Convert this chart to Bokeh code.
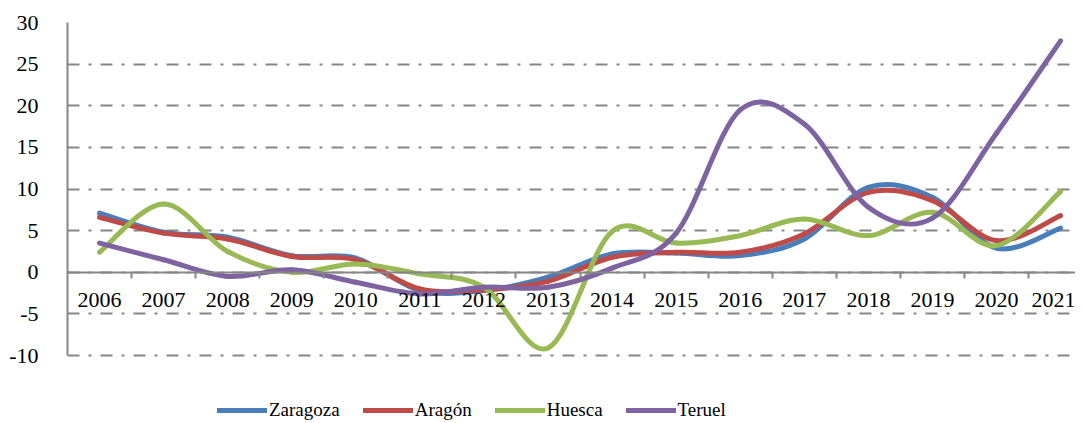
from bokeh.plotting import figure
from bokeh.models import (Range1d, LinearAxis, FixedTicker, Legend, LegendItem,
                          CustomJSTickFormatter, Grid)
from bokeh.embed import file_html
from bokeh.resources import INLINE

years = list(range(2006, 2022))
zaragoza = [7.1, 4.8, 4.2, 2.0, 1.7, -2.2, -2.2, -0.6, 2.2, 2.3, 2.0, 4.0, 10.2, 9.0, 2.9, 5.3]
aragon = [6.6, 4.7, 4.0, 1.9, 1.5, -2.0, -2.1, -1.1, 1.8, 2.4, 2.4, 4.6, 9.6, 8.6, 3.8, 6.8]
huesca = [2.4, 8.2, 2.5, 0.0, 1.0, -0.2, -1.8, -9.1, 4.9, 3.5, 4.4, 6.4, 4.4, 7.2, 3.2, 9.7]
teruel = [3.5, 1.5, -0.5, 0.3, -1.2, -2.6, -1.8, -1.8, 0.5, 4.7, 19.5, 17.8, 7.8, 6.5, 16.7, 27.8]
names = ["Zaragoza", "Aragón", "Huesca", "Teruel"]
colors = ["#4A7EBB", "#BE4B48", "#98B954", "#7F63A1"]
series = [zaragoza, aragon, huesca, teruel]
y_ticks = list(range(-10, 31, 5))

FONT = "Liberation Serif"
GRID = "#868686"

# frame: top at y=30 line, extends below -10 to hold the legend
PX_PER_UNIT = 333 / 40
H = 423
TOP = 22
y_start = 30 - (H - TOP) / PX_PER_UNIT

p = figure(width=1075, height=H, output_backend="svg", toolbar_location=None,
           x_range=Range1d(2005.5, 2005.5 + (1075 - 67) / 64.07),
           y_range=Range1d(y_start, 30),
           x_axis_type=None, y_axis_type=None,
           min_border_left=67, min_border_right=0, min_border_top=TOP, min_border_bottom=0)
p.outline_line_color = None
p.background_fill_color = "white"
p.border_fill_color = "white"

# horizontal dash-dot grid
grid = Grid(dimension=1, ticker=FixedTicker(ticks=y_ticks))
grid.grid_line_color = GRID
grid.grid_line_width = 2
grid.grid_line_dash = "12 9 3 9"
p.add_layout(grid, "center")

# y axis
yax = LinearAxis(ticker=FixedTicker(ticks=y_ticks), bounds=(-10, 30))
yax.axis_line_color = GRID
yax.axis_line_width = 2
yax.major_tick_line_color = None
yax.minor_tick_line_color = None
yax.major_label_text_font = FONT
yax.major_label_text_font_size = "22px"
yax.major_label_text_color = "black"
yax.major_label_standoff = 23
yax.formatter = CustomJSTickFormatter(code="return String(tick);")
p.add_layout(yax, "left")

# x axis at y=0: labels at category centres, tick marks between categories
xax = LinearAxis(ticker=FixedTicker(ticks=years, minor_ticks=[y + 0.5 for y in years[:-1]]),
                 fixed_location=0)
xax.axis_line_color = GRID
xax.axis_line_width = 2
xax.major_tick_line_color = None
xax.minor_tick_line_color = GRID
xax.minor_tick_line_width = 2
xax.minor_tick_out = 6
xax.minor_tick_in = 0
xax.major_label_text_font = FONT
xax.major_label_text_font_size = "22px"
xax.major_label_text_color = "black"
xax.major_label_standoff = 15
xax.formatter = CustomJSTickFormatter(code="return String(Math.round(tick));")
p.add_layout(xax, "below")


def bez(xs, ys):
    n = len(xs)
    d = dict(x0=[], y0=[], x1=[], y1=[], cx0=[], cy0=[], cx1=[], cy1=[])
    for i in range(n - 1):
        xm, ym = (xs[i - 1], ys[i - 1]) if i > 0 else (xs[i], ys[i])
        xp, yp = (xs[i + 2], ys[i + 2]) if i + 2 < n else (xs[i + 1], ys[i + 1])
        d["x0"].append(xs[i]); d["y0"].append(ys[i])
        d["x1"].append(xs[i + 1]); d["y1"].append(ys[i + 1])
        d["cx0"].append(xs[i] + (xs[i + 1] - xm) / 6)
        d["cy0"].append(ys[i] + (ys[i + 1] - ym) / 6)
        d["cx1"].append(xs[i + 1] - (xp - xs[i]) / 6)
        d["cy1"].append(ys[i + 1] - (yp - ys[i]) / 6)
    return d


items = []
for name, col, vals in zip(names, colors, series):
    p.bezier(source=bez(years, vals), x0="x0", y0="y0", x1="x1", y1="y1",
             cx0="cx0", cy0="cy0", cx1="cx1", cy1="cy1",
             line_color=col, line_width=5, line_cap="round")
    r = p.line(x=[years[0]], y=[vals[0]], line_color=col, line_width=5,
               line_cap="round")
    items.append(LegendItem(label=name, renderers=[r]))

legend = Legend(items=items, orientation="horizontal", location=(150, 2))
legend.label_text_font = FONT
legend.label_text_font_size = "19px"
legend.label_text_color = "black"
legend.glyph_width = 50
legend.glyph_height = 20
legend.label_standoff = 2
legend.spacing = 23
legend.border_line_color = None
legend.background_fill_alpha = 0
legend.padding = 0
legend.margin = 0
p.add_layout(legend, "center")

open("out.html", "w").write(file_html(p, INLINE))
